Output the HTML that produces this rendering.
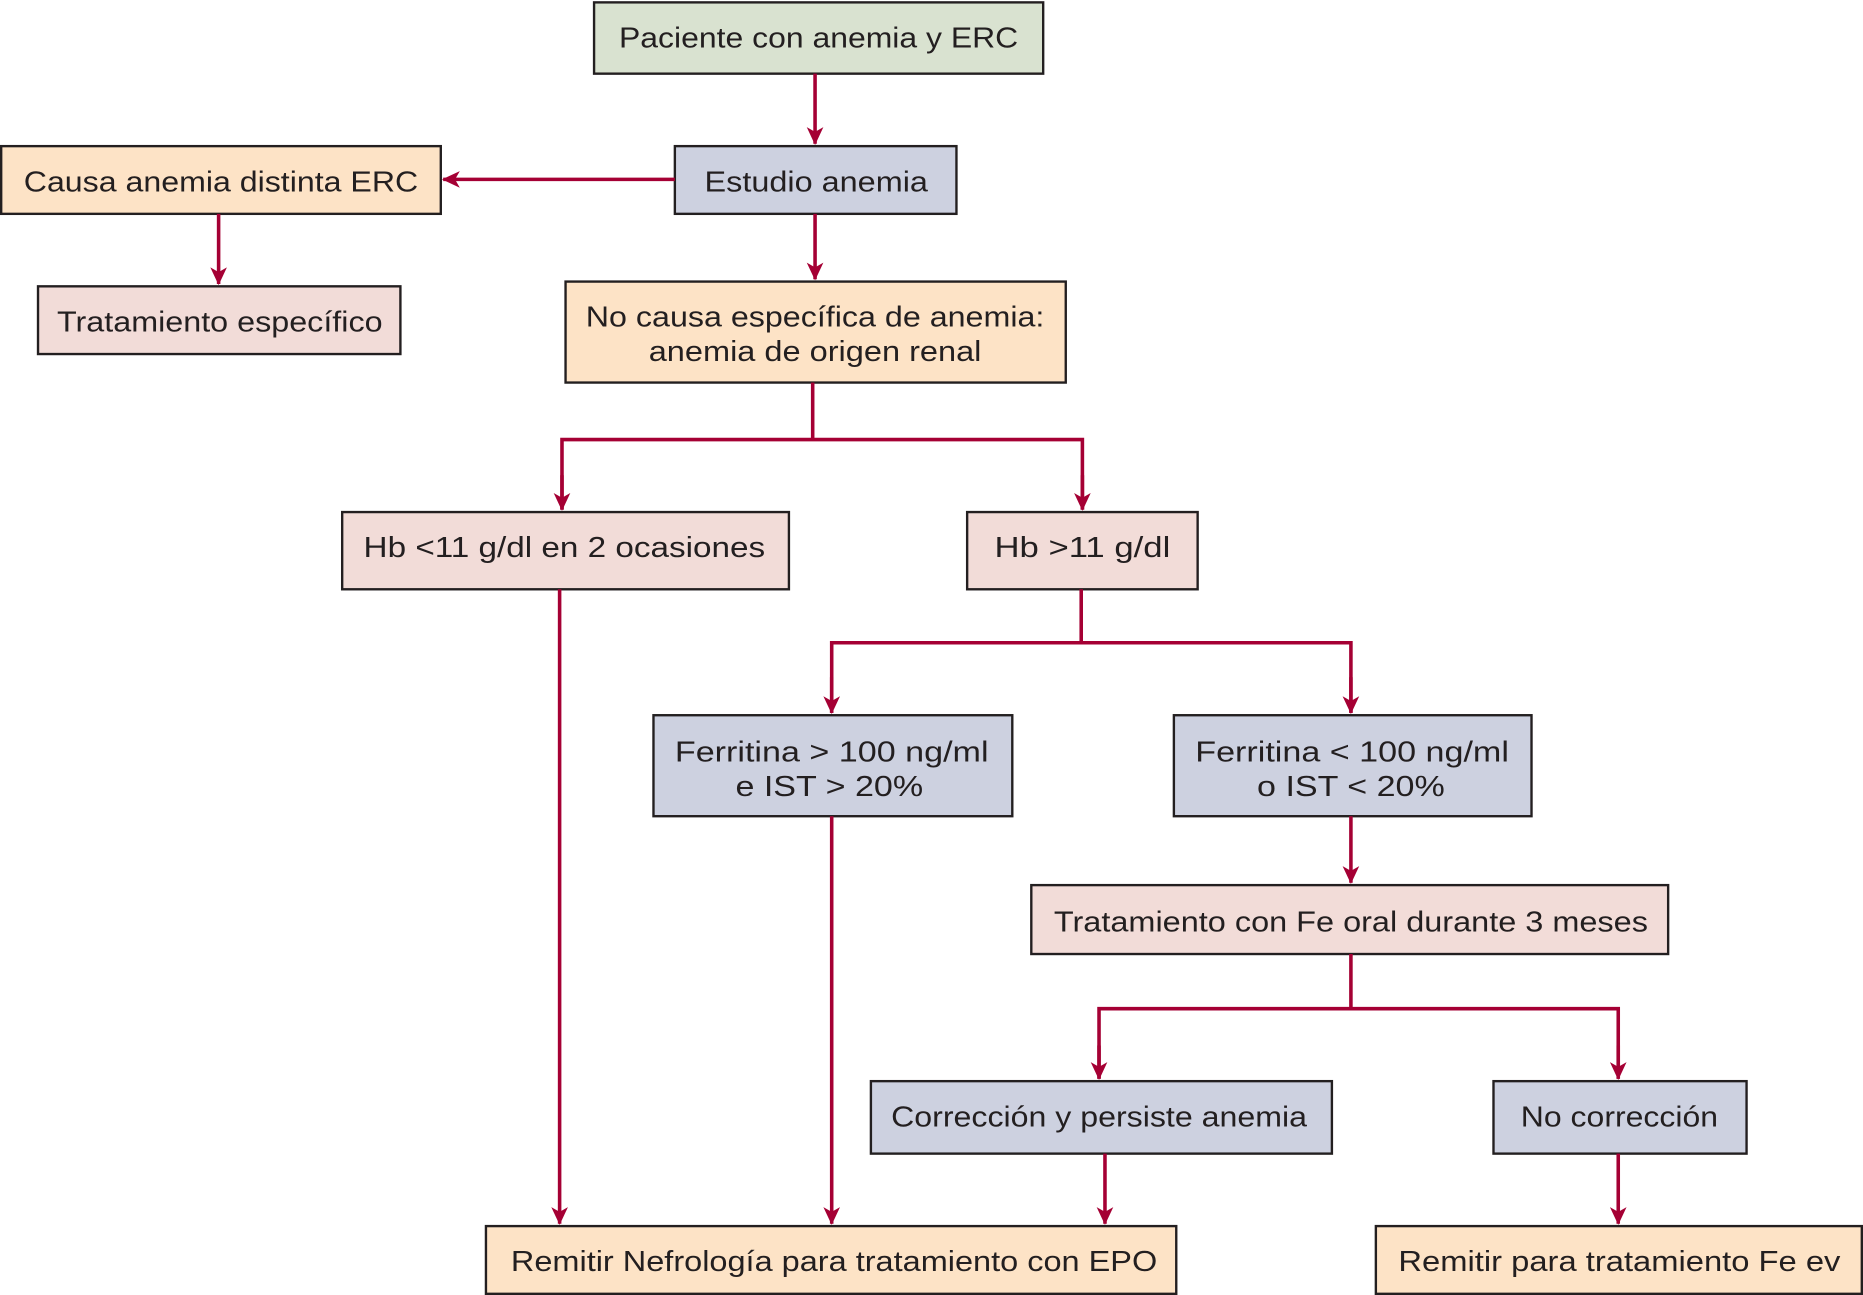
<!DOCTYPE html>
<html><head><meta charset="utf-8"><style>
html,body{margin:0;padding:0;background:#fff;}
svg{display:block;}
text{font-family:"Liberation Sans",sans-serif;font-size:24px;fill:#231f20;}
</style></head><body>
<svg width="1863" height="1295" viewBox="0 0 1568 1090" preserveAspectRatio="none" xmlns="http://www.w3.org/2000/svg">
<defs>
<marker id="a" markerWidth="16" markerHeight="16" refX="14" refY="8" orient="auto" markerUnits="userSpaceOnUse">
<path d="M0,1 L15,8 L0,15 L4,8 Z" fill="#a50034"/>
</marker>
</defs>
<g stroke="#231f20" stroke-width="2">
<rect x="500" y="2" width="378" height="60" fill="#d9e2d0"/>
<rect x="568" y="123" width="237" height="57" fill="#cdd1e0"/>
<rect x="1" y="123" width="370" height="57" fill="#fde3c6"/>
<rect x="32" y="241" width="305" height="57" fill="#f2dcd8"/>
<rect x="476" y="237" width="421" height="85" fill="#fde3c6"/>
<rect x="288" y="431" width="376" height="65" fill="#f2dcd8"/>
<rect x="814" y="431" width="194" height="65" fill="#f2dcd8"/>
<rect x="550" y="602" width="302" height="85" fill="#cdd1e0"/>
<rect x="988" y="602" width="301" height="85" fill="#cdd1e0"/>
<rect x="868" y="745" width="536" height="58" fill="#f2dcd8"/>
<rect x="733" y="910" width="388" height="61" fill="#cdd1e0"/>
<rect x="1257" y="910" width="213" height="61" fill="#cdd1e0"/>
<rect x="409" y="1032" width="581" height="57" fill="#fde3c6"/>
<rect x="1158" y="1032" width="409" height="57" fill="#fde3c6"/>
</g>
<g stroke="#a50034" stroke-width="3" fill="none">
<path d="M686,62 V121" marker-end="url(#a)"/>
<path d="M568,151 H373" marker-end="url(#a)"/>
<path d="M184,180 V239" marker-end="url(#a)"/>
<path d="M686,180 V235" marker-end="url(#a)"/>
<path d="M684,322 V370"/>
<path d="M473,429 V370 H911 V429" />
<path d="M473,400 V429" marker-end="url(#a)"/>
<path d="M911,400 V429" marker-end="url(#a)"/>
<path d="M910,496 V541"/>
<path d="M700,600 V541 H1137 V600"/>
<path d="M700,570 V600" marker-end="url(#a)"/>
<path d="M1137,570 V600" marker-end="url(#a)"/>
<path d="M471,496 V1030" marker-end="url(#a)"/>
<path d="M700,687 V1030" marker-end="url(#a)"/>
<path d="M1137,687 V743" marker-end="url(#a)"/>
<path d="M1137,803 V849"/>
<path d="M925,908 V849 H1362 V908"/>
<path d="M925,880 V908" marker-end="url(#a)"/>
<path d="M1362,880 V908" marker-end="url(#a)"/>
<path d="M930,971 V1030" marker-end="url(#a)"/>
<path d="M1362,971 V1030" marker-end="url(#a)"/>
</g>
<g text-anchor="middle">
<text x="689" y="40" textLength="336" lengthAdjust="spacingAndGlyphs">Paciente con anemia y ERC</text>
<text x="687" y="161" textLength="188" lengthAdjust="spacingAndGlyphs">Estudio anemia</text>
<text x="186" y="161" textLength="332" lengthAdjust="spacingAndGlyphs">Causa anemia distinta ERC</text>
<text x="185" y="279" textLength="274" lengthAdjust="spacingAndGlyphs">Tratamiento específico</text>
<text x="686" y="275" textLength="386" lengthAdjust="spacingAndGlyphs">No causa específica de anemia:</text>
<text x="686" y="304" textLength="280" lengthAdjust="spacingAndGlyphs">anemia de origen renal</text>
<text x="475" y="469" textLength="338" lengthAdjust="spacingAndGlyphs">Hb &lt;11 g/dl en 2 ocasiones</text>
<text x="911" y="469" textLength="148" lengthAdjust="spacingAndGlyphs">Hb &gt;11 g/dl</text>
<text x="700" y="641" textLength="264" lengthAdjust="spacingAndGlyphs">Ferritina &gt; 100 ng/ml</text>
<text x="698" y="670" textLength="158" lengthAdjust="spacingAndGlyphs">e IST &gt; 20%</text>
<text x="1138" y="641" textLength="264" lengthAdjust="spacingAndGlyphs">Ferritina &lt; 100 ng/ml</text>
<text x="1137" y="670" textLength="158" lengthAdjust="spacingAndGlyphs">o IST &lt; 20%</text>
<text x="1137" y="784" textLength="500" lengthAdjust="spacingAndGlyphs">Tratamiento con Fe oral durante 3 meses</text>
<text x="925" y="948" textLength="350" lengthAdjust="spacingAndGlyphs">Corrección y persiste anemia</text>
<text x="1363" y="948" textLength="166" lengthAdjust="spacingAndGlyphs">No corrección</text>
<text x="702" y="1070" textLength="544" lengthAdjust="spacingAndGlyphs">Remitir Nefrología para tratamiento con EPO</text>
<text x="1363" y="1070" textLength="372" lengthAdjust="spacingAndGlyphs">Remitir para tratamiento Fe ev</text>
</g>
</svg>
</body></html>
